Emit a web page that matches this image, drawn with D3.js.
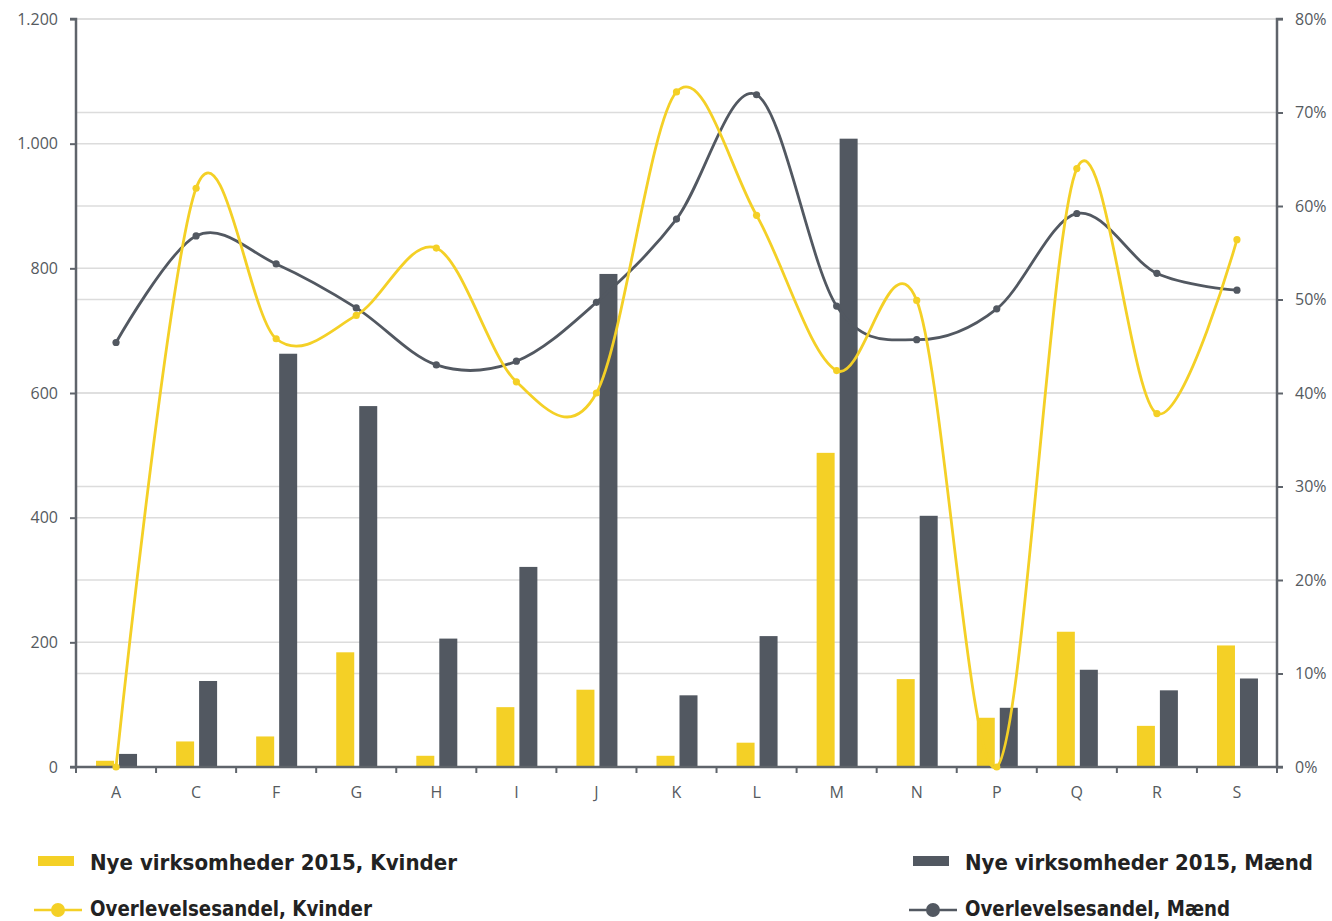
<!DOCTYPE html>
<html>
<head>
<meta charset="utf-8">
<script src="https://cdn.jsdelivr.net/npm/d3@7"></script>
<style>
  html, body { margin: 0; padding: 0; background: #fff; }
  svg { display: block; }
</style>
</head>
<body>
<svg id="chart" width="1332" height="921"></svg>
<script>
const categories = ["A","C","F","G","H","I","J","K","L","M","N","P","Q","R","S"];
const barsKvinder = [10, 41, 49, 184, 18, 96, 124, 18, 39, 504, 141, 79, 217, 66, 195];
const barsMaend   = [21, 138, 663, 579, 206, 321, 791, 115, 210, 1008, 403, 95, 156, 123, 142];
const shareKvinder = [0, 61.9, 45.8, 48.3, 55.5, 41.2, 40.0, 72.2, 59.0, 42.4, 49.9, 0, 64.0, 37.8, 56.4];
const shareMaend   = [45.4, 56.8, 53.8, 49.1, 43.0, 43.4, 49.7, 58.6, 71.9, 49.3, 45.7, 49.0, 59.2, 52.8, 51.0];
const leftTicks = [0, 200, 400, 600, 800, 1000, 1200];
const rightTicks = [0, 10, 20, 30, 40, 50, 60, 70, 80];
const legendLabels = ["Nye virksomheder 2015, Kvinder", "Nye virksomheder 2015, Mænd",
                      "Overlevelsesandel, Kvinder", "Overlevelsesandel, Mænd"];

const YELLOW = "#F4D026", GRAY = "#525861", AXIS = "#5f646b", GRID = "#dcdcdc", TXT = "#555a60";
const svg = d3.select("#chart");
const L = 76, R = 1277, T = 19, B = 767;

const x0 = d3.scaleBand().domain(categories).range([L, R]).padding(0);
const x1 = d3.scaleBand().domain(["K","M"]).range([0, 41]).paddingInner(0.217);
const yL = d3.scaleLinear().domain([0, 1200]).range([B, T]);
const yR = d3.scaleLinear().domain([0, 80]).range([B, T]);

const fmtL = v => d3.format(",")(v).replace(/,/g, ".");

// gridlines
const grid = svg.append("g");
leftTicks.filter(v => v > 0).forEach(v => {
  grid.append("line").attr("x1", L).attr("x2", R).attr("y1", yL(v)).attr("y2", yL(v))
    .attr("stroke", GRID).attr("stroke-width", 1.5);
});
rightTicks.filter(v => v > 0).forEach(v => {
  grid.append("line").attr("x1", L).attr("x2", R).attr("y1", yR(v)).attr("y2", yR(v))
    .attr("stroke", GRID).attr("stroke-width", 1.5);
});

// bars
const bars = svg.append("g");
categories.forEach((c, i) => {
  const gx = x0(c) + x0.bandwidth() / 2 - 20;
  bars.append("rect").attr("x", gx + x1("K")).attr("width", x1.bandwidth())
    .attr("y", yL(barsKvinder[i])).attr("height", B - yL(barsKvinder[i])).attr("fill", YELLOW);
  bars.append("rect").attr("x", gx + x1("M")).attr("width", x1.bandwidth())
    .attr("y", yL(barsMaend[i])).attr("height", B - yL(barsMaend[i])).attr("fill", GRAY);
});

// axes
const axL = svg.append("g").attr("transform", `translate(${L},0)`)
  .call(d3.axisLeft(yL).tickValues(leftTicks).tickFormat(fmtL).tickSize(6).tickPadding(12));
const axR = svg.append("g").attr("transform", `translate(${R},0)`)
  .call(d3.axisRight(yR).tickValues(rightTicks).tickFormat(d => d + "%").tickSize(6).tickPadding(12));
const axB = svg.append("g").attr("transform", `translate(0,${B})`)
  .call(d3.axisBottom(x0).tickSize(0).tickPadding(20));
// band boundary ticks
const bTicks = categories.map(c => x0(c)).concat([R]);
svg.append("g").selectAll("line").data(bTicks).join("line")
  .attr("x1", d => d).attr("x2", d => d).attr("y1", B).attr("y2", B + 6)
  .attr("stroke", AXIS).attr("stroke-width", 2);

[axL, axR, axB].forEach(a => {
  a.selectAll(".domain").attr("stroke", AXIS).attr("stroke-width", 2.5);
  a.selectAll(".tick line").attr("stroke", AXIS).attr("stroke-width", 2);
  a.selectAll("text").attr("fill", TXT).style("font-family", "'Open Sans', sans-serif").style("font-size", "16px");
});
axL.select(".domain").attr("d", `M-6,${T}H0V${B}H-6`);
axR.select(".domain").attr("d", `M6,${T}H0V${B}H6`);
axB.select(".domain").attr("d", `M${L},0H${R}`);

// lines
const lineGen = d3.line().curve(d3.curveCardinal.tension(0));
function drawLine(vals, color) {
  const pts = categories.map((c, i) => [x0(c) + x0.bandwidth() / 2, yR(vals[i])]);
  svg.append("path").attr("d", lineGen(pts)).attr("fill", "none")
    .attr("stroke", color).attr("stroke-width", 2.8);
  svg.append("g").selectAll("circle").data(pts).join("circle")
    .attr("cx", d => d[0]).attr("cy", d => d[1]).attr("r", 3.6).attr("fill", color);
}
drawLine(shareMaend, GRAY);
drawLine(shareKvinder, YELLOW);

// legend
const lg = svg.append("g").style("font-family", "'DejaVu Sans Condensed', 'DejaVu Sans', sans-serif")
  .style("font-weight", "bold").style("font-size", "22px").attr("fill", "#222");
lg.append("rect").attr("x", 38).attr("y", 856).attr("width", 36).attr("height", 10).attr("fill", YELLOW);
lg.append("rect").attr("x", 913).attr("y", 856).attr("width", 36).attr("height", 10).attr("fill", GRAY);
lg.append("line").attr("x1", 34).attr("x2", 82).attr("y1", 910).attr("y2", 910).attr("stroke", YELLOW).attr("stroke-width", 2.5);
lg.append("circle").attr("cx", 58).attr("cy", 910).attr("r", 7).attr("fill", YELLOW);
lg.append("line").attr("x1", 909).attr("x2", 957).attr("y1", 910).attr("y2", 910).attr("stroke", GRAY).attr("stroke-width", 2.5);
lg.append("circle").attr("cx", 933).attr("cy", 910).attr("r", 7).attr("fill", GRAY);
const lpos = [[90, 870, 367], [965, 870, 348], [90, 916, 282], [965, 916, 265]];
legendLabels.forEach((t, i) => {
  lg.append("text").attr("x", lpos[i][0]).attr("y", lpos[i][1])
    .attr("textLength", lpos[i][2]).attr("lengthAdjust", "spacingAndGlyphs").text(t);
});
</script>
</body>
</html>
